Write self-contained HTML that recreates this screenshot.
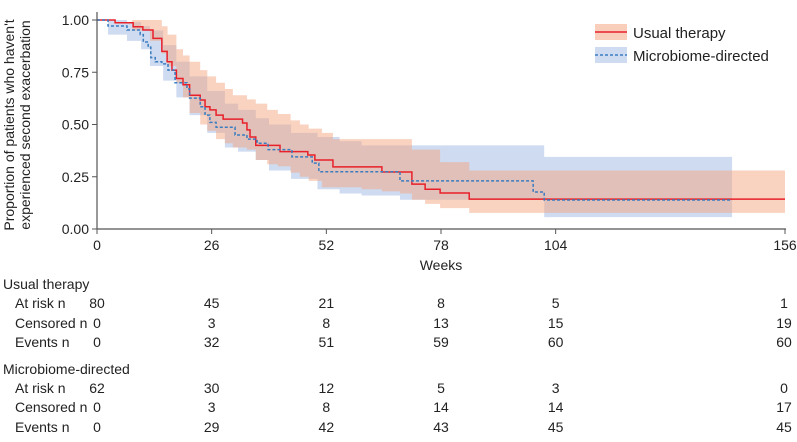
<!DOCTYPE html>
<html><head><meta charset="utf-8"><style>
body{margin:0;background:#fff;}
svg{display:block;font-family:"Liberation Sans",sans-serif;}
text{fill:#222;}
</style></head><body>
<svg id="c" width="797" height="442">
<g id="bands"></g>
<g id="lines"></g>
<g id="axes"></g>
<g id="table"></g>
<g>
 <g>
  <rect x="595" y="24" width="32" height="16" fill="#f4a582" opacity="0.55"/>
  <line x1="595" y1="32" x2="627" y2="32" stroke="#e8202a" stroke-width="1.5"/>
  <text x="633" y="38" font-size="15">Usual therapy</text>
 </g>
 <g>
  <rect x="595" y="47" width="32" height="16" fill="#aec3e6" opacity="0.6"/>
  <line x1="595" y1="55" x2="627" y2="55" stroke="#3a7cc0" stroke-width="1.5" stroke-dasharray="3,2"/>
  <text x="633" y="61" font-size="15">Microbiome-directed</text>
 </g>
</g>
<g>
 <text transform="translate(14,125) rotate(-90)" text-anchor="middle" font-size="14">Proportion of patients who haven't</text>
 <text transform="translate(30,125) rotate(-90)" text-anchor="middle" font-size="14">experienced second exacerbation</text>
</g>
<text x="441" y="270" text-anchor="middle" font-size="14">Weeks</text>
</svg>
<script>
const redWeeks=[0,4.1,8.2,10.4,12.7,14.7,15.9,17,18,19.5,21,23.4,24.5,25.6,27,28.6,33,34,34.7,36,41.5,47.8,49.4,53.5,64.6,71.4,74.4,77.8,84.4];
const redVals=[1,0.987,0.968,0.952,0.912,0.85,0.8,0.76,0.72,0.69,0.64,0.617,0.585,0.57,0.545,0.526,0.507,0.474,0.44,0.4,0.37,0.354,0.33,0.297,0.273,0.215,0.19,0.172,0.143];
const redEnd=156;
const blueWeeks=[0,2.5,6.8,9.8,10.5,11.6,12.2,13.2,14.7,16.1,17.7,20.4,21,23.4,24.5,25.6,27,31.3,34,36.3,38.8,44.2,48.8,50.3,68.7,98.9,101.4];
const blueVals=[1,0.971,0.952,0.93,0.895,0.87,0.82,0.8,0.79,0.76,0.7,0.67,0.626,0.585,0.545,0.51,0.487,0.45,0.43,0.41,0.38,0.345,0.315,0.274,0.23,0.177,0.139];
const blueEnd=144;
const redBandWeeks=[0,8,12,14.7,16,18,19.5,21,23.4,25,27,29,30.8,34,36,38.6,41,43.9,46,48,51,53.5,60,64.6,68.7,71.4,74.4,77.8,84.4];
const redUpper=[1,1,1,0.97,0.93,0.86,0.83,0.8,0.76,0.73,0.7,0.67,0.64,0.62,0.6,0.57,0.55,0.52,0.5,0.48,0.46,0.43,0.43,0.43,0.43,0.38,0.38,0.32,0.28];
const redLower=[1,0.95,0.9,0.84,0.78,0.7,0.63,0.555,0.5,0.47,0.43,0.41,0.39,0.38,0.33,0.31,0.3,0.27,0.25,0.23,0.2,0.2,0.19,0.18,0.17,0.14,0.12,0.1,0.077];
const blueBandWeeks=[0,2.5,6.8,10,12,15,18,21,25,29,32,36,39,44,50,55,60,68.7,98.9,101.4];
const blueUpper=[1,1,0.99,0.97,0.95,0.88,0.8,0.73,0.66,0.6,0.57,0.53,0.5,0.46,0.44,0.42,0.4,0.4,0.4,0.345];
const blueLower=[1,0.93,0.9,0.86,0.78,0.71,0.63,0.545,0.46,0.39,0.37,0.33,0.28,0.24,0.19,0.17,0.16,0.14,0.14,0.057];
const xTicks=[0,26,52,78,104,156];
const yTicks=[0,0.25,0.5,0.75,1];
const yLabels=["0.00","0.25","0.50","0.75","1.00"];
const tableCols=[0,26,52,78,104,156];
const utRisk=[80,45,21,8,5,1],utCens=[0,3,8,13,15,19],utEvents=[0,32,51,59,60,60];
const mdRisk=[62,30,12,5,3,0],mdCens=[0,3,8,14,14,17],mdEvents=[0,29,42,43,45,45];

const NS="http://www.w3.org/2000/svg";
const X=w=>97+w*(785-97)/156, Y=v=>229-v*209;
function mk(tag,attrs,parent){const e=document.createElementNS(NS,tag);for(const k in attrs)e.setAttribute(k,attrs[k]);parent.appendChild(e);return e;}
function stepPath(ws,vs,end){let d=`M${X(ws[0])},${Y(vs[0])}`;for(let i=1;i<ws.length;i++){d+=`H${X(ws[i])}V${Y(vs[i])}`;}d+=`H${X(end)}`;return d;}
function bandPath(ws,up,lo,end){let d=`M${X(ws[0])},${Y(up[0])}`;for(let i=1;i<ws.length;i++){d+=`H${X(ws[i])}V${Y(up[i])}`;}d+=`H${X(end)}`;
 let idx=ws.length-1;d+=`V${Y(lo[idx])}`;for(let i=idx;i>0;i--){d+=`H${X(ws[i])}V${Y(lo[i-1])}`;}d+=`H${X(ws[0])}Z`;return d;}
const bands=document.getElementById('bands'),lines=document.getElementById('lines'),axes=document.getElementById('axes'),table=document.getElementById('table');
let b1=mk('path',{d:bandPath(blueBandWeeks,blueUpper,blueLower,blueEnd),fill:'#aec3e6',opacity:'0.6'},bands);


let b2=mk('path',{d:bandPath(redBandWeeks,redUpper,redLower,redEnd),fill:'#f4a582',opacity:'0.5'},bands);


let l1=mk('path',{d:stepPath(redWeeks,redVals,redEnd),fill:'none',stroke:'#e8202a','stroke-width':1.5},lines);


let l2=mk('path',{d:stepPath(blueWeeks,blueVals,blueEnd),fill:'none',stroke:'#3a7cc0','stroke-width':1.5,'stroke-dasharray':'3,2'},lines);


mk('line',{x1:97,y1:229,x2:786,y2:229,stroke:'#555','stroke-width':1.2},axes);
mk('line',{x1:97,y1:12,x2:97,y2:229,stroke:'#555','stroke-width':1.2},axes);
xTicks.forEach(t=>{mk('line',{x1:X(t),y1:229,x2:X(t),y2:234,stroke:'#555'},axes);
 const tx=mk('text',{x:X(t),y:250,'text-anchor':'middle','font-size':14},axes);tx.textContent=t;
 
 });
yTicks.forEach((t,i)=>{mk('line',{x1:92,y1:Y(t),x2:97,y2:Y(t),stroke:'#555'},axes);
 const tx=mk('text',{x:89,y:Y(t)+5,'text-anchor':'end','font-size':14},axes);tx.textContent=yLabels[i];
 
 });
function label(x,y,s){const t=mk('text',{x:x,y:y,'font-size':14},table);t.textContent=s;
 
 }
function row(arr,y){arr.forEach((v,i)=>{const t=mk('text',{x:Math.min(X(tableCols[i]),784),y:y,'text-anchor':'middle','font-size':14},table);t.textContent=v;
 
 });}
label(3,289,"Usual therapy");
label(15,308,"At risk n");row(utRisk,308);
label(15,328,"Censored n");row(utCens,328);
label(15,347,"Events n");row(utEvents,347);
label(3,374,"Microbiome-directed");
label(15,393,"At risk n");row(mdRisk,393);
label(15,412,"Censored n");row(mdCens,412);
label(15,432,"Events n");row(mdEvents,432);
</script>
</body></html>
